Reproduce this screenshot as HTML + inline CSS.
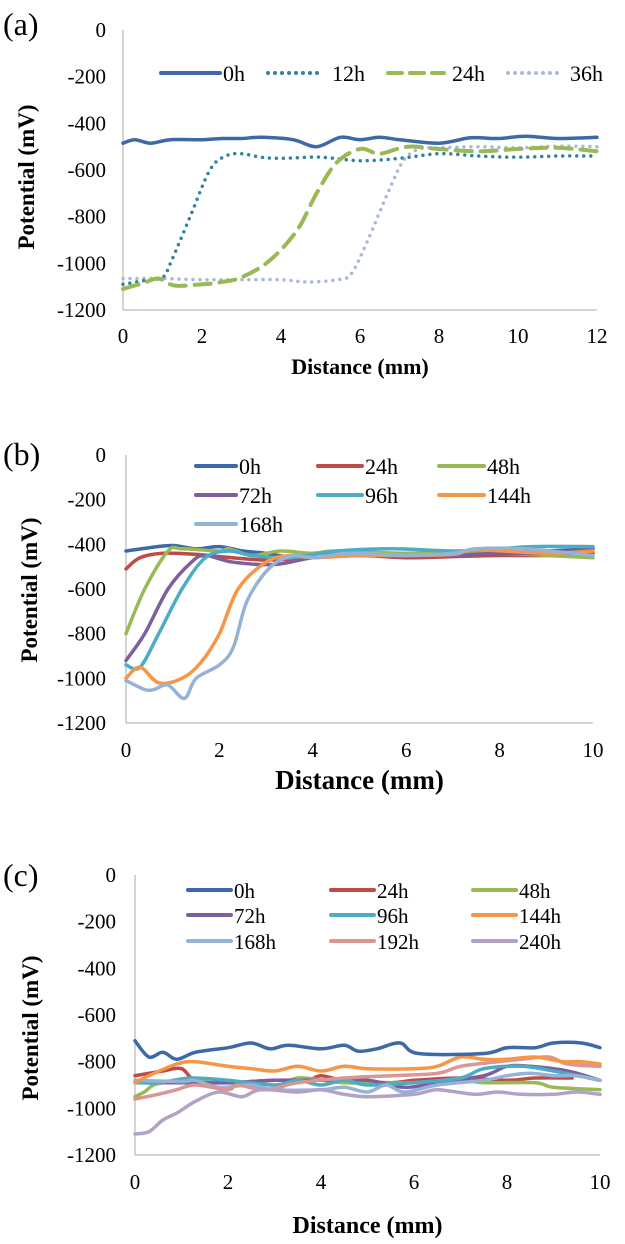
<!DOCTYPE html>
<html><head><meta charset="utf-8"><style>
html,body{margin:0;padding:0;background:#fff;}
svg{display:block;font-family:"Liberation Serif",serif;}
</style></head><body>
<svg id="s" width="625" height="1244" viewBox="0 0 625 1244" xmlns="http://www.w3.org/2000/svg"></svg>
<script>
const S=document.getElementById('s');let H='';
function cr(pts){let d='M'+pts[0][0].toFixed(1)+','+pts[0][1].toFixed(1);
for(let i=0;i<pts.length-1;i++){const p0=pts[i-1]||pts[i],p1=pts[i],p2=pts[i+1],p3=pts[i+2]||p2;
const c1=[p1[0]+(p2[0]-p0[0])/6,p1[1]+(p2[1]-p0[1])/6],c2=[p2[0]-(p3[0]-p1[0])/6,p2[1]-(p3[1]-p1[1])/6];
d+=' C'+c1[0].toFixed(1)+','+c1[1].toFixed(1)+' '+c2[0].toFixed(1)+','+c2[1].toFixed(1)+' '+p2[0].toFixed(1)+','+p2[1].toFixed(1);}return d;}
function panel(o){
const X=v=>o.x0+(o.x1-o.x0)*v/o.xmax, Y=v=>o.y0+(o.y1-o.y0)*(-v)/1200;
H+=`<text x="3" y="${o.ly}" font-size="32">${o.lab}</text>`;
H+=`<line x1="${o.x0}" y1="${o.y0}" x2="${o.x0}" y2="${o.y1}" stroke="#bdbdbd" stroke-width="1.3"/>`;
H+=`<line x1="${o.x0}" y1="${o.y1}" x2="${o.x1}" y2="${o.y1}" stroke="#bdbdbd" stroke-width="1.3"/>`;
for(let v=0;v<=1200;v+=200)H+=`<text x="${o.yl}" y="${Y(-v)+7}" font-size="21" text-anchor="end">${v?'-'+v:'0'}</text>`;
for(let v=0;v<=o.xmax;v+=2)H+=`<text x="${X(v)}" y="${o.xty}" font-size="21" text-anchor="middle">${v}</text>`;
H+=`<text x="${(o.x0+o.x1)/2}" y="${o.dy}" font-size="${o.dfs}" font-weight="bold" text-anchor="middle">Distance (mm)</text>`;
H+=`<text transform="translate(${o.px},${o.py}) rotate(-90)" font-size="23" font-weight="bold" text-anchor="middle">Potential (mV)</text>`;
o.series.forEach(s=>{const pts=s.d.map(p=>[X(p[0]),Y(p[1])]);
H+=`<path d="${cr(pts)}" fill="none" stroke="${s.c}" stroke-width="${s.w||3.5}" stroke-linecap="round" stroke-linejoin="round" ${s.da?'stroke-dasharray="'+s.da+'"':''}/>`;});
o.leg.forEach(l=>{H+=`<line x1="${l[0]}" y1="${l[2]}" x2="${l[1]}" y2="${l[2]}" stroke="${l[4]}" stroke-width="${l[6]||4}" stroke-linecap="round" ${l[5]?'stroke-dasharray="'+l[5]+'"':''}/>`;
H+=`<text x="${l[1]+(l[7]||3)}" y="${l[2]+8}" font-size="${o.lfs}">${l[3]}</text>`;});
}
const B='#3d6aa6',R='#be4b48',G='#98b954',P='#7d5fa0',T='#4bacc6',O='#f79646',LB='#95b3d7',PK='#d99694',LV='#b3a2c7';
panel({lab:'(a)',ly:35,x0:123,x1:597,y0:30,y1:310,xmax:12,yl:106,xty:343,dy:374,dfs:22,px:34,py:177,lfs:22,
series:[
{c:'#a9b8d8',da:'0 7',d:[[0,-1065],[1,-1065],[2,-1070],[3,-1070],[4,-1070],[4.7,-1080],[5.5,-1068],[5.8,-1040],[6.2,-900],[6.7,-700],[7.1,-560],[7.5,-510],[8,-505],[9,-500],[10,-505],[11,-498],[12,-500]]},
{c:'#31849b',da:'0 7',d:[[0,-1090],[0.5,-1075],[1,-1060],[1.2,-1000],[1.7,-800],[2.2,-600],[2.6,-540],[3,-530],[3.5,-545],[4,-550],[5,-545],[6,-560],[7,-550],[8,-530],[9,-540],[10,-545],[11,-540],[12,-540]]},
{c:G,da:'16 9',w:4,d:[[0,-1110],[0.5,-1085],[0.9,-1065],[1.3,-1095],[2,-1090],[2.5,-1080],[3,-1060],[3.7,-990],[4.4,-860],[4.9,-700],[5.4,-570],[6,-510],[6.5,-530],[7.2,-500],[8,-510],[9,-520],[10,-510],[11,-505],[12,-520]]},
{c:B,d:[[0,-485],[0.3,-470],[0.7,-485],[1.2,-470],[2,-470],[2.5,-465],[3,-465],[3.5,-460],[4.3,-470],[4.9,-500],[5.5,-460],[6,-470],[6.5,-460],[7,-470],[8,-485],[8.8,-462],[9.5,-465],[10.2,-455],[11,-465],[12,-460]]}
],
leg:[[161,220,73,'0h',B,'',4],[268,322,73,'12h','#31849b','0 7',4,10],[388,444,73,'24h',G,'14 8',4,8],[508,560,73,'36h','#a9b8d8','0 7',4,10]]});
panel({lab:'(b)',ly:465,x0:126,x1:593,y0:455,y1:723,xmax:10,yl:106,xty:757,dy:789,dfs:27,px:37,py:590,lfs:22,
series:[
{c:B,d:[[0,-430],[0.5,-415],[1,-405],[1.5,-420],[2,-410],[2.5,-430],[3,-440],[3.5,-455],[4,-440],[5,-440],[6,-440],[7,-440],[8,-440],[9,-430],[10,-420]]},
{c:R,d:[[0,-510],[0.3,-460],[0.8,-440],[1.5,-445],[2,-455],[3,-470],[4,-460],[5,-450],[6,-460],[7,-455],[8,-450],[9,-450],[10,-440]]},
{c:G,d:[[0,-800],[0.4,-600],[0.9,-430],[1.2,-420],[2,-430],[2.2,-420],[2.7,-450],[3.3,-430],[4,-440],[4.5,-430],[6,-440],[8,-440],[9,-450],[10,-460]]},
{c:P,d:[[0,-920],[0.4,-800],[0.9,-600],[1.4,-480],[1.7,-450],[2.3,-480],[3.2,-490],[4,-460],[5,-450],[6,-450],[7,-450],[8,-440],[9,-440],[10,-420]]},
{c:T,d:[[0,-940],[0.3,-950],[0.7,-800],[1.2,-600],[1.7,-460],[2.2,-430],[2.7,-450],[3.5,-460],[4.5,-430],[5.7,-420],[7,-430],[8,-420],[8.7,-410],[10,-410]]},
{c:O,d:[[0,-1000],[0.3,-950],[0.7,-1020],[1.2,-1000],[1.6,-930],[2,-800],[2.4,-600],[3,-480],[3.5,-450],[4,-460],[5,-450],[6,-450],[7,-445],[7.5,-425],[9,-440],[10,-430]]},
{c:LB,d:[[0,-1010],[0.4,-1050],[0.6,-1050],[0.9,-1030],[1.25,-1090],[1.5,-1000],[2,-940],[2.3,-860],[2.6,-650],[3.1,-500],[3.6,-450],[4,-460],[4.8,-440],[6,-450],[7,-440],[7.5,-420],[8.5,-420],[10,-450]]}
],
leg:[[196,236,466,'0h',B],[318,362,466,'24h',R],[439,484,466,'48h',G],[196,236,495,'72h',P],[318,362,495,'96h',T],[439,484,495,'144h',O],[196,236,524,'168h',LB]]});
panel({lab:'(c)',ly:886,x0:135,x1:600,y0:875,y1:1155,xmax:10,yl:116,xty:1189,dy:1233,dfs:24,px:38,py:1028,lfs:21,
series:[
{c:R,d:[[0,-860],[0.6,-840],[1,-830],[1.3,-880],[2,-890],[3,-880],[3.7,-880],[4,-860],[4.5,-880],[5.5,-890],[6,-880],[7,-870],[8,-880],[8.6,-870],[9.4,-870]]},
{c:G,d:[[0,-950],[0.2,-930],[0.6,-890],[2,-890],[3,-920],[3.5,-870],[4.5,-890],[6,-890],[7,-880],[7.5,-890],[8.6,-890],[9,-910],[10,-920]]},
{c:P,d:[[0,-890],[1,-890],[2,-890],[3,-880],[4,-880],[5,-880],[5.8,-910],[6.5,-890],[7.5,-860],[8,-820],[8.5,-820],[9.3,-840],[10,-880]]},
{c:T,d:[[0,-890],[0.5,-890],[1.2,-870],[2,-880],[3,-900],[3.5,-880],[4,-900],[4.5,-880],[5,-900],[6,-890],[7,-870],[7.5,-830],[8.3,-820],[9,-840],[10,-880]]},
{c:LB,d:[[0,-880],[1,-885],[1.3,-880],[1.8,-910],[2.5,-900],[3,-920],[4,-920],[4.5,-910],[5,-930],[5.4,-900],[5.8,-930],[6.5,-900],[7.5,-880],[8,-860],[8.5,-850],[9,-860],[9.5,-860],[10,-880]]},
{c:PK,d:[[0,-960],[0.5,-940],[0.9,-920],[1.3,-900],[2,-920],[2.2,-900],[2.8,-920],[3.5,-890],[4.5,-870],[5.5,-860],[6.5,-850],[7,-820],[7.8,-800],[8.3,-790],[8.9,-780],[9.3,-810],[10,-820]]},
{c:LV,d:[[0,-1110],[0.3,-1100],[0.6,-1050],[0.9,-1020],[1.3,-970],[1.8,-930],[2.3,-950],[2.7,-920],[3.5,-930],[4,-920],[4.5,-940],[5,-950],[6,-940],[6.5,-920],[7.3,-940],[7.8,-930],[8.3,-940],[9,-940],[9.5,-930],[10,-940]]},
{c:O,d:[[0,-890],[0.3,-860],[0.9,-810],[1.3,-800],[2,-820],[2.5,-830],[3,-840],[3.5,-820],[4,-840],[4.5,-820],[5,-830],[6,-830],[6.5,-820],[7,-780],[7.5,-790],[8,-790],[8.6,-780],[9.2,-800],[9.6,-800],[10,-810]]},
{c:B,d:[[0,-710],[0.3,-780],[0.6,-760],[0.9,-790],[1.3,-760],[2,-740],[2.5,-720],[2.9,-745],[3.3,-730],[4,-745],[4.5,-730],[4.8,-755],[5.2,-745],[5.7,-720],[6.1,-765],[7.5,-765],[8,-740],[8.6,-740],[9,-720],[9.6,-720],[10,-740]]}
],
leg:[[188,231,890,'0h',B],[331,374,890,'24h',R],[473,516,890,'48h',G],[188,231,915,'72h',P],[331,374,915,'96h',T],[473,516,915,'144h',O],[188,231,941,'168h',LB],[331,374,941,'192h',PK],[473,516,941,'240h',LV]]});
S.innerHTML=H;
</script>
</body></html>
